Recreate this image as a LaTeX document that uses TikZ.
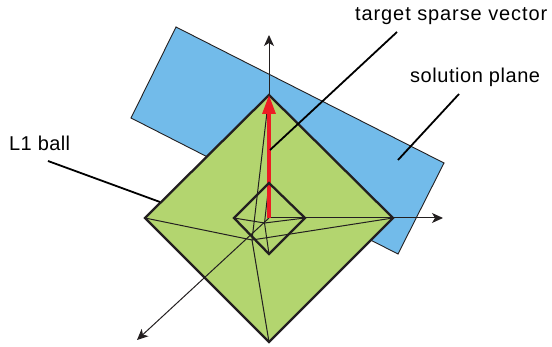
\documentclass[tikz,border=0pt]{standalone}
\usepackage{fontspec}
\setmainfont{Liberation Sans}
\usetikzlibrary{arrows.meta}
\definecolor{planeblue}{HTML}{72BBEA}
\definecolor{ballgreen}{HTML}{B3D56F}
\definecolor{inkdark}{HTML}{231F20}
\definecolor{vecred}{HTML}{ED1C24}
\tikzset{
  plane/.style={fill=planeblue,draw=inkdark,line width=0.9pt,line join=miter},
  ball/.style={draw=inkdark,line width=2.3pt,line join=miter},
  ridge/.style={draw=inkdark,line width=1pt},
  axisline/.style={draw=inkdark,line width=1pt,-{Stealth[length=11pt,width=10pt,inset=3pt]}},
  leader/.style={draw=black,line width=1.8pt},
  vec/.style={draw=vecred,line width=3.2pt,-{Triangle[length=19pt,width=13pt]}},
  lbl/.style={text=black,inner sep=0pt,anchor=base west}
}
\begin{document}
\begin{tikzpicture}[x=1pt,y=-1pt]
\useasboundingbox (0,0) rectangle (552,347);
% plane
\coordinate (pa) at (176,27);
\coordinate (pb) at (444,163);
\coordinate (pc) at (398,254);
\coordinate (pd) at (131,118);
\draw[plane] (pa) -- (pb) -- (pc) -- (pd) -- cycle;
% origin and large ball
\coordinate (o) at (269,218);
\coordinate (bt) at (269,95);
\coordinate (bl) at (145,218);
\coordinate (br) at (393,218);
\coordinate (bb) at (269,342);
\coordinate (bf) at (252,240);
\fill[ballgreen] (bt) -- (br) -- (bb) -- (bl) -- cycle;
% small ball
\coordinate (st) at (269,183);
\coordinate (sl) at (234,218);
\coordinate (sr) at (305,218);
\coordinate (sb) at (269,254);
\coordinate (sf) at (264.5,223);
% ridges
\draw[ridge] (bt) -- (bf) -- (bb);
\draw[ridge] (bl) -- (bf) -- (br);
\draw[ridge] (st) -- (sf) -- (sb);
\draw[ridge] (sl) -- (sf) -- (sr);
% axes
\coordinate (ay) at (269,35);
\coordinate (ax) at (443,218);
\coordinate (az) at (137,340);
\draw[axisline] (o) -- (ay);
\draw[axisline] (o) -- (ax);
\draw[axisline] (o) -- (az);
% balls outlines
\draw[ball] (bt) -- (br) -- (bb) -- (bl) -- cycle;
\draw[vec] (o) -- (bt);
\draw[ball] (st) -- (sr) -- (sb) -- (sl) -- cycle;
% labels
\node[lbl] (ltarget) at (355,21) {\fontsize{20}{24}\addfontfeatures{LetterSpace=4.5}\selectfont target sparse vector};
\node[lbl] (lplane) at (410,83) {\fontsize{20}{24}\addfontfeatures{LetterSpace=2.7}\selectfont solution plane};
\node[lbl] (lball) at (9,151) {\fontsize{20}{24}\addfontfeatures{LetterSpace=2}\selectfont L1 ball};
% leaders
\coordinate (ta) at (397,32);
\coordinate (tb) at (270,150);
\coordinate (sa) at (459,94);
\coordinate (sb2) at (398,160);
\coordinate (la) at (48,161);
\coordinate (lb) at (160,202);
\draw[leader] (ta) -- (tb);
\draw[leader] (sa) -- (sb2);
\draw[leader] (la) -- (lb);
\end{tikzpicture}
\end{document}
